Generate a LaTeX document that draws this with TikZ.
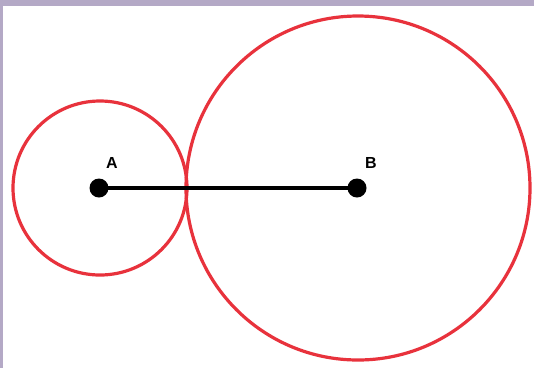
\documentclass[tikz,border=0pt]{standalone}
\usepackage{fontspec}
\setmainfont{Liberation Sans}
\definecolor{circred}{HTML}{E8323C}
\definecolor{frame}{HTML}{B4A9C6}
\begin{document}
\begin{tikzpicture}[x=1pt,y=-1pt,
  circ/.style={draw=circred,line width=3.2pt},
  pt/.style={circle,fill=black,inner sep=0pt,minimum size=19pt},
  lab/.style={font=\fontsize{16}{16}\selectfont\bfseries,inner sep=0pt}]
\useasboundingbox (0,0) rectangle (534,368);
\fill[white] (0,0) rectangle (534,368);
\fill[frame] (0,0) rectangle (534,6);
\fill[frame] (0,0) rectangle (3,368);
\draw[circ] (100,188) circle[radius=87];
\draw[circ] (358,188) circle[radius=172];
\node[pt] (A) at (99,188) {};
\node[pt] (B) at (357,188) {};
\draw[line width=3.2pt] (A.center) -- (B.center);
\node[lab] (la) at (112,163) {A};
\node[lab] (lb) at (371,163) {B};
\end{tikzpicture}
\end{document}
